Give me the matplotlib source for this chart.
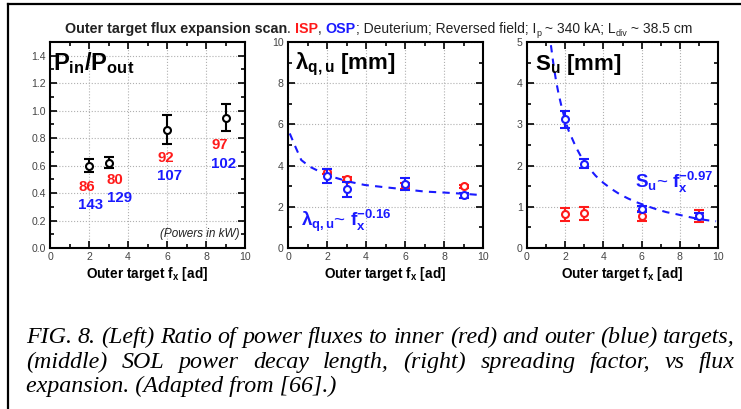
import matplotlib
matplotlib.use('Agg')
import matplotlib.pyplot as plt
from matplotlib.ticker import MultipleLocator, FormatStrFormatter
from matplotlib.lines import Line2D
from matplotlib.transforms import IdentityTransform

plt.rcParams['font.family'] = ['Liberation Sans', 'DejaVu Sans']
plt.rcParams['mathtext.fontset'] = 'custom'
plt.rcParams['mathtext.rm'] = 'Liberation Sans'
plt.rcParams['mathtext.bf'] = 'Liberation Sans:bold'
plt.rcParams['mathtext.it'] = 'Liberation Sans:italic'

RED = '#ff1a1a'
BLUE = '#1a1aff'
W, H = 741, 409

# ---- data ----
fx = [2, 3, 6, 9]

ratio = [0.60, 0.62, 0.86, 0.95]
ratio_err = [0.05, 0.04, 0.105, 0.10]
isp_kw = [86, 80, 92, 97]
osp_kw = [143, 129, 107, 102]

lam_isp = [3.70, 3.35, 3.00, 3.00]
lam_isp_err = [0.12, 0.10, 0.15, 0.08]
lam_osp = [3.50, 2.85, 3.10, 2.55]
lam_osp_err = [0.35, 0.35, 0.30, 0.10]

su_isp = [0.82, 0.84, 0.78, 0.78]
su_isp_err = [0.16, 0.16, 0.13, 0.14]
su_osp = [3.12, 2.05, 0.95, 0.78]
su_osp_err = [0.20, 0.10, 0.07, 0.07]

# dashed fit curves
lam_fit_x = [0.09, 0.34, 0.68, 1.11, 1.62, 2.22, 3.08, 3.93, 4.96, 5.98, 7.0, 8.03, 9.06, 9.74]
lam_fit_y = [5.56, 5.00, 4.27, 3.95, 3.71, 3.47, 3.23, 3.06, 2.95, 2.85, 2.74, 2.69, 2.63, 2.58]
su_fit_x = [1.18, 1.25, 1.39, 1.52, 1.65, 1.82, 2.0, 2.17, 2.35, 2.56, 2.78, 3.0, 3.3, 3.6,
            4.0, 4.4, 4.87, 5.3, 5.74, 6.2, 6.78, 7.3, 7.83, 8.4, 9.04, 9.5, 9.9]
su_fit_y = [5.25, 4.93, 4.44, 4.06, 3.75, 3.41, 3.10, 2.86, 2.67, 2.45, 2.26, 2.10, 1.91, 1.75,
            1.58, 1.44, 1.30, 1.20, 1.11, 1.03, 0.94, 0.87, 0.82, 0.76, 0.70, 0.67, 0.65]

fig = plt.figure(figsize=(W / 100, H / 100), dpi=100)


def px_axes(left, right, top, bottom):
    return fig.add_axes([left / W, 1 - bottom / H, (right - left) / W, (bottom - top) / H])


def style(ax, ymax, ymaj, ymin, yfmt):
    ax.set_xlim(0, 10)
    ax.set_ylim(0, ymax)
    ax.xaxis.set_major_locator(MultipleLocator(2))
    ax.xaxis.set_minor_locator(MultipleLocator(1))
    ax.yaxis.set_major_locator(MultipleLocator(ymaj))
    ax.yaxis.set_minor_locator(MultipleLocator(ymin))
    ax.yaxis.set_major_formatter(FormatStrFormatter(yfmt))
    ax.tick_params(which='both', direction='in', top=True, right=True,
                   labelsize=7.6, labelcolor='#444444', width=1.2, pad=3)
    ax.tick_params(which='major', length=5)
    ax.tick_params(which='minor', length=3)
    ax.grid(True, which='major', ls=':', color='#b0b0b0', lw=0.8)
    for s in ax.spines.values():
        s.set_linewidth(1.5)
    ax.set_xlabel(r'Outer target f$_{\mathbf{x}}$ [ad]', fontsize=9.8, fontweight='bold', labelpad=2)


def errs(ax, x, y, e, color, z):
    ax.errorbar(x, y, yerr=e, fmt='o', ms=5, mfc='white', mec=color, mew=1.5,
                ecolor=color, elinewidth=1.5, capsize=3.5, capthick=1.5, zorder=z)


# ---- left panel ----
ax1 = px_axes(50, 245, 42, 248)
style(ax1, 1.5, 0.2, 0.1, '%.1f')
errs(ax1, fx, ratio, ratio_err, 'black', 3)
red_pos = [(1.88, 0.446), (3.33, 0.495), (5.93, 0.656), (8.72, 0.753)]
blue_pos = [(2.08, 0.314), (3.54, 0.362), (6.15, 0.526), (8.92, 0.615)]
for v, (x, y) in zip(isp_kw, red_pos):
    ax1.text(x, y, str(v), color=RED, fontsize=10.8, fontweight='bold', ha='center', va='center')
for v, (x, y) in zip(osp_kw, blue_pos):
    ax1.text(x, y, str(v), color=BLUE, fontsize=10.8, fontweight='bold', ha='center', va='center')
ax1.text(9.7, 0.1, '(Powers in kW)', fontsize=8.5, style='italic', color='#222222',
         ha='right', va='center')
ax1.text(0.15, 1.44, r'$\mathbf{P_{in}/P_{out}}$', fontsize=17, va='top', ha='left')

# ---- middle panel ----
ax2 = px_axes(288, 483, 42, 248)
style(ax2, 10, 2, 1, '%d')
ax2.plot(lam_fit_x, lam_fit_y, ls=(0, (3.5, 3)), color=BLUE, lw=1.5, zorder=2)
errs(ax2, fx, lam_isp, lam_isp_err, RED, 3)
errs(ax2, fx, lam_osp, lam_osp_err, BLUE, 4)
ax2.text(0.35, 9.55, r'$\mathbf{λ_{q,u}}$ [mm]', fontsize=16, fontweight='bold', va='top', ha='left')
ax2.text(0.65, 1.05, r'$\mathbf{λ_{q,u}}$~ $\mathbf{f_x^{-0.16}}$', fontsize=13.5, color=BLUE,
         va='baseline', ha='left')

# ---- right panel ----
ax3 = px_axes(527, 718, 42, 248)
style(ax3, 5, 1, 0.5, '%d')
ax3.plot(su_fit_x, su_fit_y, ls=(0, (3.5, 3)), color=BLUE, lw=1.5, zorder=2)
errs(ax3, fx, su_isp, su_isp_err, RED, 3)
errs(ax3, fx, su_osp, su_osp_err, BLUE, 4)
ax3.text(0.4, 4.75, r'$\mathbf{S_u}$ [mm]', fontsize=16, fontweight='bold', va='top', ha='left')
ax3.text(5.65, 1.45, r'$\mathbf{S_u}$~ $\mathbf{f_x^{-0.97}}$', fontsize=13.5, color=BLUE,
         va='baseline', ha='left')

# ---- title made of pieces ----
renderer = fig.canvas.get_renderer()


def pieces(x, y, parts):
    for s, kw, dy in parts:
        t = fig.text(x, H - y - dy, s, transform=IdentityTransform(), va='baseline', ha='left', **kw)
        x = t.get_window_extent(renderer).x1
    return x


norm = dict(fontsize=10.0, color='#222222')
sub = dict(fontsize=6.5, color='#222222')
bold = dict(fontsize=10.3, fontweight='bold', color='#222222')
pieces(65, 33, [
    ('Outer target flux expansion scan', bold, 0),
    ('. ', norm, 0),
    ('ISP', dict(fontsize=10.3, fontweight='bold', color=RED), 0),
    (', ', norm, 0),
    ('OSP', dict(fontsize=10.3, fontweight='bold', color=BLUE), 0),
    ('; Deuterium; Reversed field; I', norm, 0),
    ('p', sub, 3),
    (' ~ 340 kA; L', norm, 0),
    ('div', sub, 3),
    (' ~ 38.5 cm', norm, 0),
])

# ---- caption, justified ----
cap = dict(family=['Liberation Serif', 'DejaVu Serif'], style='italic', fontsize=17.3, color='black')
lines = [
    ('FIG. 8. (Left) Ratio of power fluxes to inner (red) and outer (blue) targets,', 343, True),
    ('(middle) SOL power decay length, (right) spreading factor, vs flux', 368, True),
    ('expansion. (Adapted from [66].)', 392, False),
]
x0, x1 = 26, 735
for txt, yb, just in lines:
    if not just:
        fig.text(x0, H - yb, txt, transform=IdentityTransform(), va='baseline', **cap)
        continue
    words = txt.split(' ')
    arts = [fig.text(0, H - yb, w, transform=IdentityTransform(), va='baseline', **cap) for w in words]
    widths = [a.get_window_extent(renderer).width for a in arts]
    gap = (x1 - x0 - sum(widths)) / (len(words) - 1)
    x = x0
    for a, w in zip(arts, widths):
        a.set_x(x)
        x += w + gap

# page frame lines
fig.add_artist(Line2D([8 / W, 8 / W], [0, 1 - 4 / H], transform=fig.transFigure, color='black', lw=1.6))
fig.add_artist(Line2D([8 / W, 1], [1 - 4 / H, 1 - 4 / H], transform=fig.transFigure, color='black', lw=1.6))

fig.savefig('out.png', dpi=100)
